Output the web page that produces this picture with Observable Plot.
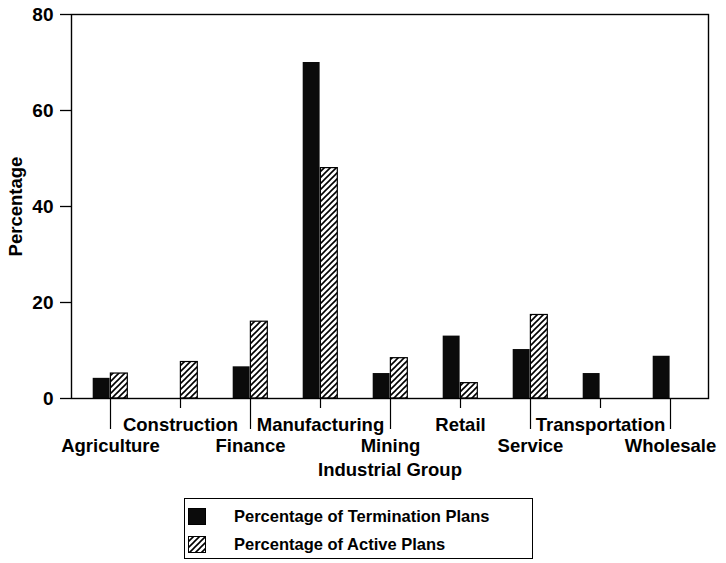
<!DOCTYPE html>
<html><head><meta charset="utf-8">
<script src="https://cdn.jsdelivr.net/npm/d3@7"></script>
<script src="https://cdn.jsdelivr.net/npm/@observablehq/plot@0.6"></script>
<style>
body{margin:0;background:#fff;font-family:"Liberation Sans",Arial,sans-serif;}
#chart{position:relative;width:726px;height:563px;overflow:hidden;}
.legend{position:absolute;left:184px;top:498px;width:349px;height:61px;border:1px solid #000;box-sizing:border-box;font-weight:bold;font-size:16.5px;color:#000;}
.legend .row{position:absolute;left:0;height:20px;display:flex;align-items:center;}
.legend svg{margin-left:3px;margin-right:28px;}
</style></head><body>
<svg width="0" height="0" style="position:absolute"><defs>
<pattern id="hatch" patternUnits="userSpaceOnUse" width="6" height="6">
<rect width="6" height="6" fill="#fff"/>
<path d="M0,6 L6,0 M-1.5,1.5 L1.5,-1.5 M4.5,7.5 L7.5,4.5" stroke="#000" stroke-width="1.6"/>
</pattern></defs></svg>
<div id="chart"></div>
<script>
const industries = ["Agriculture","Construction","Finance","Manufacturing","Mining","Retail","Service","Transportation","Wholesale"];
const termination = [4.2, 0, 6.6, 70, 5.2, 13, 10.2, 5.2, 8.8];
const active = [5.2, 7.6, 16, 48, 8.4, 3.2, 17.4, 0, 0];
const yTicks = [0, 20, 40, 60, 80];
const seriesNames = ["Percentage of Termination Plans", "Percentage of Active Plans"];
const xTitle = "Industrial Group";
const yTitle = "Percentage";

const upperLabels = industries.filter((d, i) => i % 2 === 1);
const lowerLabels = industries.filter((d, i) => i % 2 === 0);
const termRows = industries.map((d, i) => ({industry: d, value: termination[i]})).filter(d => d.value > 0);
const activeRows = industries.map((d, i) => ({industry: d, value: active[i]})).filter(d => d.value > 0);

const W = 726, mL = 71, mR = 18;
const bw = (W - mL - mR) / industries.length;

const svg = Plot.plot({
  width: W, height: 480,
  marginLeft: mL, marginRight: mR, marginTop: 14, marginBottom: 82,
  style: {fontFamily: '"Liberation Sans", Arial, sans-serif', fontSize: "18.5px", fontWeight: "bold", color: "#000", background: "#fff", overflow: "visible"},
  x: {type: "band", domain: industries, padding: 0, axis: null},
  y: {domain: [0, 80], axis: null},
  marks: [
    Plot.barY(termRows, {x: "industry", y: "value", fill: "#0b0b0b", insetLeft: bw / 4, insetRight: bw / 2}),
    Plot.barY(activeRows, {x: "industry", y: "value", fill: "url(#hatch)", stroke: "#000", strokeWidth: 1.2, insetLeft: bw / 2, insetRight: bw / 4}),
    Plot.axisY(yTicks, {tickSize: 11, tickPadding: 7, label: null, fontSize: 19, strokeWidth: 1.3}),
    Plot.axisX(upperLabels, {tickSize: 10, tickPadding: 9, label: null, strokeWidth: 1.2}),
    Plot.axisX(lowerLabels, {tickSize: 31, tickPadding: 9, label: null, strokeWidth: 1.2}),
    Plot.frame({stroke: "#000", strokeWidth: 1.4}),
    Plot.text([xTitle], {frameAnchor: "bottom", dy: 64, lineAnchor: "top", fontSize: 18.5}),
    Plot.text([yTitle], {frameAnchor: "left", dx: -55, rotate: -90, textAnchor: "middle", lineAnchor: "middle", fontSize: 18.5})
  ]
});
const chart = document.getElementById("chart");
chart.appendChild(svg);

const legend = document.createElement("div");
legend.className = "legend";
seriesNames.forEach((name, i) => {
  const row = document.createElement("div");
  row.className = "row";
  row.style.top = (i === 0 ? 7 : 35) + "px";
  const fill = i === 0 ? "#0b0b0b" : "url(#hatch)";
  row.innerHTML = `<svg width="18" height="17"><rect x="0.5" y="0.5" width="17" height="16" fill="${fill}" stroke="#000" stroke-width="1"/></svg><span>${name}</span>`;
  legend.appendChild(row);
});
chart.appendChild(legend);
</script>
</body></html>
